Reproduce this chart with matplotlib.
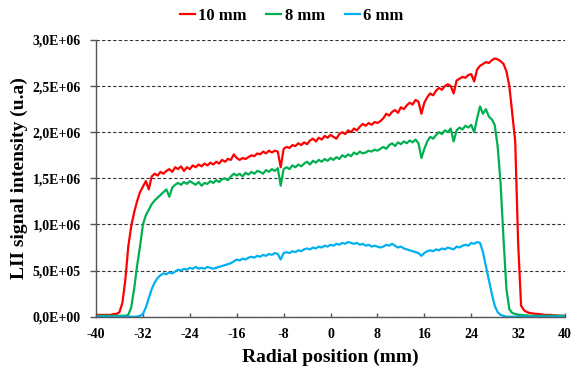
import numpy as np
import matplotlib
matplotlib.use("Agg")
import matplotlib.pyplot as plt
from matplotlib.ticker import FuncFormatter

# ---------------- DATA (signal in 1E+06 u.a) ----------------

radial_mm = np.arange(-40, 40.01, 0.5)

signal_10mm = [
    0.02, 0.02, 0.02, 0.02, 0.02, 0.02, 0.03, 0.03, 0.05, 0.15,   # -40 .. -35.5
    0.40, 0.76, 0.98, 1.13, 1.25, 1.35, 1.41, 1.47, 1.38, 1.52,
    1.55, 1.53, 1.57, 1.55, 1.58, 1.60, 1.57, 1.62, 1.60,
    1.63, 1.58, 1.62, 1.60, 1.64, 1.62, 1.65, 1.63, 1.66, 1.64,
    1.67, 1.65, 1.68, 1.66, 1.70, 1.68, 1.71, 1.70, 1.76, 1.72,
    1.70, 1.72, 1.71, 1.73, 1.75, 1.74, 1.77, 1.76, 1.79, 1.77,
    1.80, 1.78, 1.80, 1.79, 1.62, 1.82, 1.84, 1.83, 1.86, 1.85,
    1.88, 1.86, 1.89, 1.87, 1.91, 1.93, 1.90, 1.94, 1.92, 1.96,
    1.94, 1.97, 1.95, 1.93, 1.98, 2.00, 1.98, 2.02, 2.00, 2.04,
    2.02, 2.06, 2.09, 2.07, 2.10, 2.08, 2.11, 2.10, 2.12, 2.15,
    2.20, 2.18, 2.22, 2.24, 2.21, 2.27, 2.25, 2.29, 2.32, 2.30,
    2.35, 2.33, 2.20, 2.32, 2.38, 2.42, 2.40, 2.45, 2.48, 2.46,
    2.50, 2.52, 2.50, 2.42, 2.56, 2.58, 2.60, 2.59, 2.62, 2.63,
    2.55, 2.68, 2.72, 2.74, 2.76, 2.75, 2.78, 2.80, 2.79, 2.77,
    2.74, 2.66, 2.50, 2.20, 1.90, 0.80, 0.12, 0.07, 0.05, 0.04,
    0.035, 0.03, 0.03, 0.025, 0.02, 0.02, 0.02, 0.015, 0.015, 0.01,
    0.01, 0.01,
]

signal_8mm = [
    0.01, 0.01, 0.01, 0.01, 0.01, 0.01, 0.01, 0.01, 0.01,
    0.01, 0.01, 0.02, 0.10, 0.30, 0.55, 0.76, 1.00, 1.10, 1.16,
    1.22, 1.26, 1.29, 1.32, 1.35, 1.38, 1.30, 1.40, 1.43, 1.45,
    1.43, 1.46, 1.44, 1.47, 1.45, 1.43, 1.46, 1.42, 1.45, 1.44,
    1.47, 1.45, 1.48, 1.46, 1.49, 1.50, 1.48, 1.52, 1.55, 1.53,
    1.55, 1.52, 1.56, 1.54, 1.57, 1.55, 1.58, 1.57, 1.55, 1.59,
    1.57, 1.60, 1.58, 1.61, 1.42, 1.60, 1.62, 1.60, 1.64, 1.62,
    1.65, 1.63, 1.66, 1.68, 1.65, 1.69, 1.67, 1.70, 1.68, 1.71,
    1.69, 1.72, 1.70, 1.73, 1.71, 1.75, 1.73, 1.76, 1.74, 1.78,
    1.76, 1.79, 1.77, 1.78, 1.80, 1.79, 1.81, 1.80, 1.82, 1.84,
    1.82, 1.86, 1.88, 1.85, 1.89, 1.87, 1.90, 1.88, 1.91, 1.89,
    1.92, 1.88, 1.72, 1.82, 1.90, 1.95, 1.93, 1.97, 2.00, 1.98,
    2.02, 2.00, 2.04, 1.90, 2.02, 2.05, 2.03, 2.07, 2.05, 2.08,
    2.00, 2.15, 2.28, 2.20, 2.25, 2.17, 2.14, 2.08, 1.85, 1.45,
    0.85, 0.30, 0.08, 0.04, 0.03, 0.02, 0.02, 0.015, 0.015, 0.01,
    0.01, 0.01, 0.01, 0.01, 0.01, 0.01, 0.01, 0.01, 0.01, 0.01,
    0.01, 0.01,
]

signal_6mm = [
    0.00, 0.00, 0.00, 0.00, 0.00, 0.00, 0.00, 0.00, 0.00, 0.00,
    0.00, 0.00, 0.00, 0.00, 0.00, 0.01, 0.03, 0.10, 0.20, 0.30,
    0.37, 0.42, 0.45, 0.47, 0.46, 0.48, 0.47, 0.49, 0.51, 0.50,
    0.52, 0.51, 0.53, 0.52, 0.54, 0.52, 0.53, 0.52, 0.54, 0.53,
    0.52, 0.53, 0.54, 0.55, 0.56, 0.57, 0.58, 0.60, 0.62, 0.61,
    0.63, 0.62, 0.64, 0.65, 0.64, 0.66, 0.65, 0.67, 0.66, 0.68,
    0.67, 0.69, 0.68, 0.62, 0.69, 0.70, 0.69, 0.71, 0.70, 0.72,
    0.71, 0.73, 0.74, 0.73, 0.75, 0.74, 0.76, 0.75, 0.77, 0.76,
    0.78, 0.77, 0.79, 0.78, 0.80, 0.79, 0.81, 0.80, 0.79, 0.80,
    0.78, 0.79, 0.77, 0.78, 0.76, 0.77, 0.76, 0.75, 0.76, 0.78,
    0.77, 0.79, 0.77, 0.75, 0.76, 0.74, 0.73, 0.72, 0.71, 0.70,
    0.69, 0.66, 0.69, 0.71, 0.72, 0.71, 0.73, 0.72, 0.74, 0.73,
    0.75, 0.74, 0.73, 0.76, 0.75, 0.77, 0.78, 0.77, 0.80, 0.79,
    0.81, 0.80, 0.70, 0.55, 0.40, 0.25, 0.12, 0.05, 0.02, 0.01,
    0.00, 0.00, 0.00, 0.00, 0.00, 0.00, 0.00, 0.00, 0.00, 0.00,
    0.00, 0.00, 0.00, 0.00, 0.00, 0.00, 0.00, 0.00, 0.00, 0.00,
    0.00,
]

labels = ["10 mm", "8 mm", "6 mm"]
colors = ["#FF0000", "#00B050", "#00B0F0"]

# ---------------- PLOT ----------------

plt.rcParams["font.family"] = ["Liberation Serif", "DejaVu Serif"]
plt.rcParams["font.weight"] = "bold"
plt.rcParams["axes.unicode_minus"] = False

fig = plt.figure(figsize=(5.83, 3.69), dpi=100)
ax = fig.add_axes([0.1647, 0.1417, 0.8045, 0.75])

for sig, lab, col in zip([signal_10mm, signal_8mm, signal_6mm], labels, colors):
    ax.plot(radial_mm, np.array(sig) * 1e6, color=col, lw=1.6, label=lab)

ax.set_xlim(-40, 40)
ax.set_ylim(0, 3.0e6)
ax.set_xticks(np.arange(-40, 41, 8))
ax.set_yticks(np.arange(0, 3.01e6, 0.5e6))
ax.yaxis.set_major_formatter(FuncFormatter(lambda v, p: ("%.1E" % v).replace(".", ",")))

ax.grid(axis="y", color="#333333", linestyle=(0, (3, 2)), linewidth=0.8)
ax.set_axisbelow(True)
for s in ["top", "right"]:
    ax.spines[s].set_visible(False)
for s in ["left", "bottom"]:
    ax.spines[s].set_color("#555555")
    ax.spines[s].set_linewidth(1.0)
ax.tick_params(axis="y", labelsize=10, color="#555555", length=4, width=1, pad=7)
ax.tick_params(axis="x", labelsize=10, color="#555555", length=3, width=1,
               direction="in", pad=8)

ax.set_xlabel("Radial position (mm)", fontsize=14, fontweight="bold", labelpad=6)
ax.set_ylabel("LII signal intensity (u.a)", fontsize=14, fontweight="bold", labelpad=3)

fig.legend(loc="center", bbox_to_anchor=(0.5, 1 - 15.5 / 369), ncol=3,
           frameon=False, handlelength=0.9, handletextpad=0.2,
           columnspacing=1.2, prop={"weight": "bold", "size": 12})

fig.savefig("out.png", dpi=100)
